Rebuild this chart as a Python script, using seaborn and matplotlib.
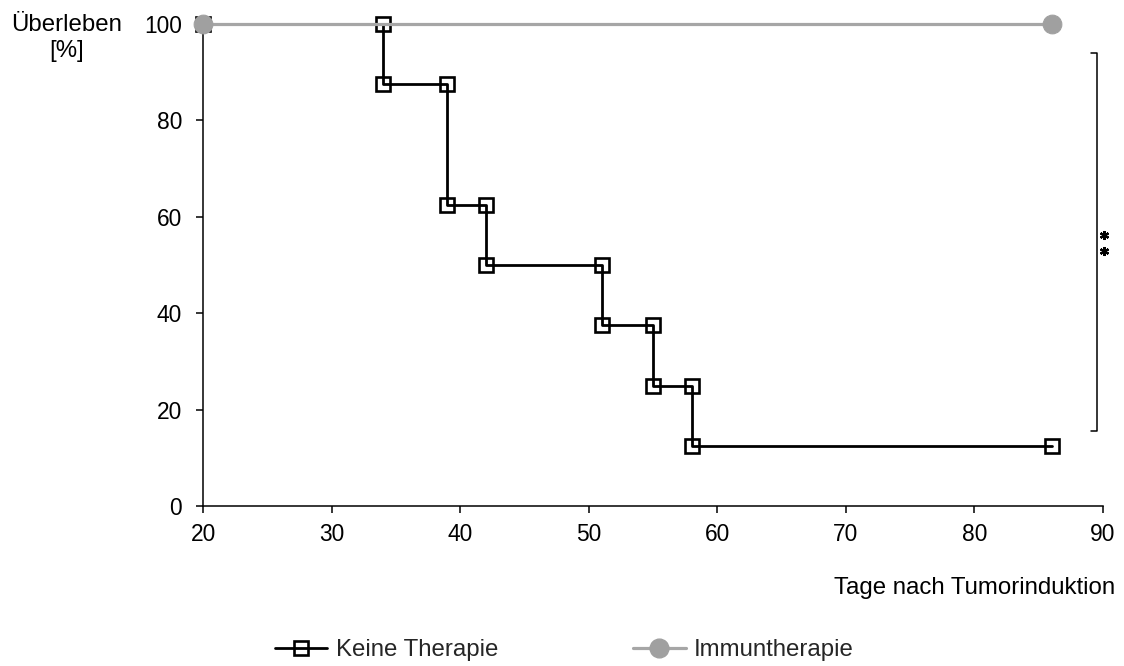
import matplotlib
matplotlib.use("Agg")
import matplotlib.pyplot as plt
import seaborn as sns
import pandas as pd
from matplotlib.lines import Line2D

# ---- data ----
keine_days = [20, 34, 34, 39, 39, 42, 42, 51, 51, 55, 55, 58, 58, 86]
keine_surv = [100, 100, 87.5, 87.5, 62.5, 62.5, 50, 50, 37.5, 37.5, 25, 25, 12.5, 12.5]
immun_days = [20, 86]
immun_surv = [100, 100]
x_ticks = [20, 30, 40, 50, 60, 70, 80, 90]
y_ticks = [0, 20, 40, 60, 80, 100]
series_names = ["Keine Therapie", "Immuntherapie"]
y_label = "Überleben\n[%]"
x_label = "Tage nach Tumorinduktion"
bracket_top = 94.0
bracket_bottom = 15.6

sns.set_theme(style="white")
plt.rcParams["font.family"] = ["Liberation Sans", "DejaVu Sans"]
FS = 16.4
FS_LAB = 17.3

fig = plt.figure(figsize=(11.24, 6.66), dpi=100)
ax = fig.add_axes([203/1124, 1-506/666, 900/1124, 482/666])

df_k = pd.DataFrame({"x": keine_days, "y": keine_surv})
df_i = pd.DataFrame({"x": immun_days, "y": immun_surv})

sns.lineplot(data=df_k, x="x", y="y", ax=ax, estimator=None, sort=False,
             color="black", linewidth=2.0, marker="s", markersize=10.5,
             markerfacecolor="none", markeredgecolor="black", markeredgewidth=1.9,
             clip_on=False, zorder=3)
sns.lineplot(data=df_i, x="x", y="y", ax=ax, estimator=None, sort=False,
             color="#A6A6A6", linewidth=2.3, marker="o", markersize=13.5,
             markerfacecolor="#A0A0A0", markeredgecolor="#A0A0A0",
             clip_on=False, zorder=4)

ax.set_xlim(x_ticks[0], x_ticks[-1])
ax.set_ylim(y_ticks[0], y_ticks[-1])
ax.set_xticks(x_ticks)
ax.set_yticks(y_ticks)
ax.set_xlabel("")
ax.set_ylabel("")
for s in ["top", "right"]:
    ax.spines[s].set_visible(False)
for s in ["left", "bottom"]:
    ax.spines[s].set_color("black")
    ax.spines[s].set_linewidth(1.1)
ax.tick_params(axis="both", direction="out", length=5, width=1.1, color="black",
               labelsize=FS, labelcolor="black")
ax.tick_params(axis="x", pad=7, bottom=True)
ax.tick_params(axis="y", pad=10, left=True)
ax.grid(False)

# significance bracket
bx = 89.53
bt = 89.05
ax.plot([bt, bx, bx, bt], [bracket_top, bracket_top, bracket_bottom, bracket_bottom],
        color="black", linewidth=1.1, clip_on=False, zorder=2)
ax.plot([90.05, 90.05], [56.2, 52.9], linestyle="none", marker=(6, 2, 0),
        markersize=6.5, markeredgewidth=1.6, color="black", clip_on=False)

# labels
fig.text(67/1124, 1-38/666, y_label, ha="center", va="center",
         multialignment="center", fontsize=FS_LAB, linespacing=1.2, color="black")
fig.text(1115/1124, 1-588/666, x_label, ha="right", va="center", fontsize=FS_LAB,
         color="black")

handles = [
    Line2D([], [], color="black", linewidth=2.0, marker="s", markersize=10.5,
           markerfacecolor="none", markeredgecolor="black", markeredgewidth=1.9),
    Line2D([], [], color="#A6A6A6", linewidth=2.3, marker="o", markersize=13.5,
           markerfacecolor="#A0A0A0", markeredgecolor="#A0A0A0"),
]
fig.legend(handles, series_names, loc="center", bbox_to_anchor=(0.502, 1-650/666),
           ncol=2, frameon=False, fontsize=FS_LAB, handlelength=2.2, handletextpad=0.35,
           columnspacing=5.6, borderpad=0, borderaxespad=0)

fig.savefig("out.png", dpi=100)
